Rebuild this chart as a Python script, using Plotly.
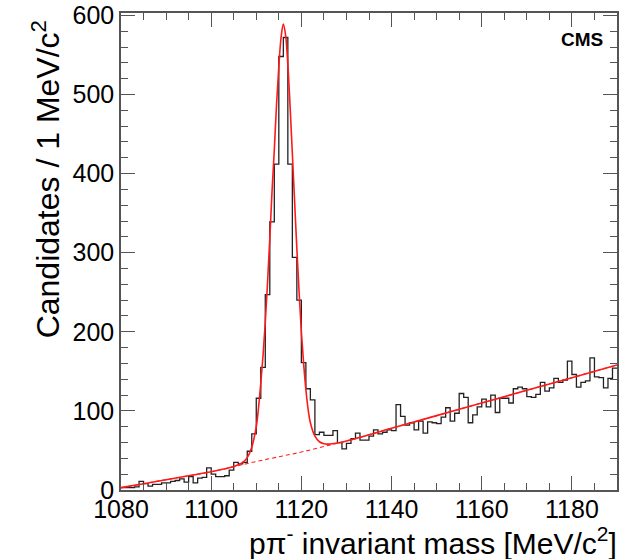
import numpy as np
import plotly.graph_objects as go

# ---------------- data ----------------
bin_low = 1080
bin_width = 1
counts = [3, 3, 3, 4, 11, 8, 5, 7, 7, 9,
          9, 11, 12, 14, 10, 17, 9, 15, 16, 28,
          20, 17, 17, 18, 25, 35, 33, 35, 49, 71,
          116, 155, 247, 339, 412, 548, 572, 412, 294, 240,
          161, 128, 114, 70, 73, 69, 69, 75, 60, 52,
          59, 65, 72, 63, 63, 68, 76, 71, 73, 76,
          75, 108, 93, 82, 85, 76, 87, 72, 86, 85,
          84, 92, 104, 87, 97, 122, 117, 85, 95, 105,
          115, 105, 120, 98, 116, 116, 110, 128, 130, 128,
          118, 117, 121, 136, 125, 129, 141, 136, 139, 163,
          146, 130, 136, 138, 167, 143, 142, 129, 141, 154]

fit_mass = [1080, 1085, 1090, 1095, 1100, 1104, 1106, 1107, 1108, 1109,
            1110, 1110.5, 1111, 1111.5, 1112, 1112.5, 1113, 1113.5, 1114, 1114.5,
            1115, 1115.5, 1116, 1116.5, 1117, 1117.5, 1118, 1118.5, 1119, 1119.5,
            1120, 1120.5, 1121, 1121.5, 1122, 1123, 1124, 1125, 1126, 1128,
            1130, 1140, 1150, 1160, 1170, 1180, 1190]
fit_total = [3, 8, 13, 18, 23, 28, 32, 35, 41, 54,
             80, 104, 135, 170, 212, 262, 318, 378, 430, 488,
             535, 572, 589, 575, 538, 485, 425, 365, 305, 250,
             200, 160, 127, 102, 85, 68, 61, 58.5, 58, 59.5,
             62, 78, 94, 110, 126, 142, 158]

bkg_mass = [1080, 1085, 1090, 1095, 1100, 1105, 1110, 1115, 1120, 1125,
            1130, 1140, 1150, 1160, 1170, 1180, 1190]
bkg_vals = [3, 8, 13, 18, 23, 29.5, 36, 42, 48, 55,
            62, 78, 94, 110, 126, 142, 158]

x_tick_vals = [1080, 1100, 1120, 1140, 1160, 1180]
y_tick_vals = [0, 100, 200, 300, 400, 500, 600]

# ---------------- figure ----------------
edges = bin_low + bin_width * np.arange(len(counts) + 1)
step_y = list(counts) + [counts[-1]]

fig = go.Figure()
fig.add_trace(go.Scatter(x=edges, y=step_y, mode="lines", line_shape="hv",
                         line=dict(color="#222222", width=1.3), showlegend=False,
                         hoverinfo="skip"))
fig.add_trace(go.Scatter(x=bkg_mass, y=bkg_vals, mode="lines", line_shape="spline",
                         line=dict(color="#ff2020", width=1.1, dash="4px,3px"),
                         showlegend=False, hoverinfo="skip"))
fig.add_trace(go.Scatter(x=fit_mass, y=fit_total, mode="lines", line_shape="spline",
                         line=dict(color="#ff1a1a", width=1.6), showlegend=False,
                         hoverinfo="skip"))

font_family = "Liberation Sans, Arial, Helvetica, sans-serif"
axis_common = dict(
    showgrid=False, zeroline=False, showline=True, linecolor="#555555", linewidth=1.5,
    mirror="allticks", ticks="inside", ticklen=14, tickwidth=1.3, tickcolor="#555555",
    tickfont=dict(family=font_family, size=25, color="black"), automargin=False,
)

fig.update_xaxes(range=[1080, 1190], tickvals=x_tick_vals, ticklabelstandoff=-4,
                 minor=dict(ticks="inside", ticklen=7, dtick=5, tickwidth=1.2,
                            tickcolor="#555555", showgrid=False),
                 **axis_common)
fig.update_yaxes(range=[0, 603], tickvals=y_tick_vals,
                 minor=dict(ticks="inside", ticklen=7, dtick=20, tickwidth=1.2,
                            tickcolor="#555555", showgrid=False),
                 **axis_common)

fig.update_layout(
    width=633, height=559,
    margin=dict(l=121, r=16, t=13, b=69, autoexpand=False),
    plot_bgcolor="white", paper_bgcolor="white",
    font=dict(family=font_family, color="black"),
    annotations=[
        dict(text="p\u03c0<sup>-</sup> invariant mass [MeV/c<sup>2</sup>]",
             xref="paper", yref="paper", x=1.005, y=-0.106, xanchor="right", yanchor="middle",
             showarrow=False, font=dict(size=30, family=font_family)),
        dict(text="Candidates / 1 MeV/c<sup>2</sup>",
             xref="paper", yref="paper", x=-0.152, y=0.988, xanchor="center", yanchor="top",
             textangle=-90, showarrow=False, font=dict(size=32, family=font_family)),
        dict(text="<b>CMS</b>", xref="paper", yref="paper", x=0.975, y=0.944,
             xanchor="right", yanchor="middle", showarrow=False,
             font=dict(size=19, family=font_family)),
    ],
)

fig.write_html("out.html")
